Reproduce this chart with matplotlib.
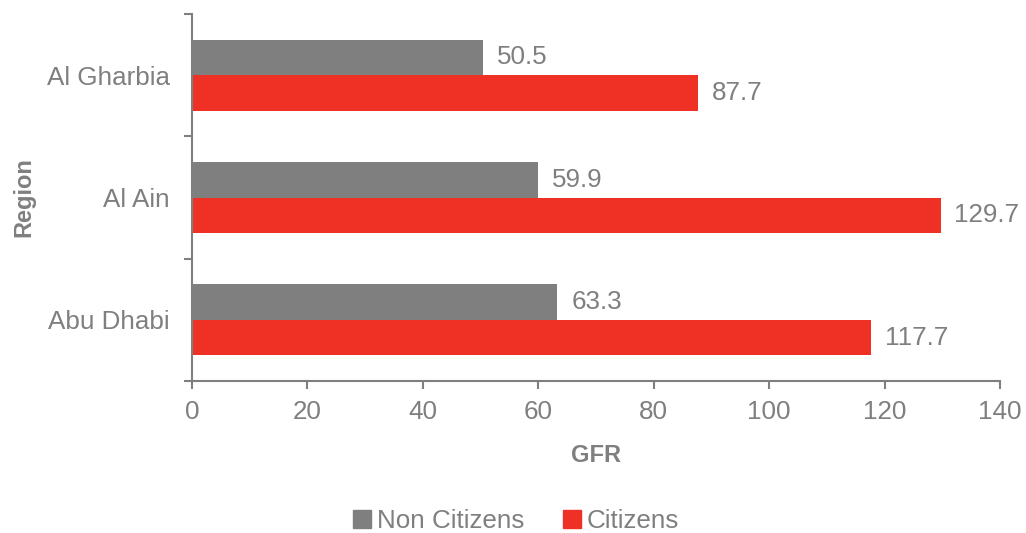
import numpy as np
import matplotlib.pyplot as plt
from matplotlib.patches import Patch

regions = ["Abu Dhabi", "Al Ain", "Al Gharbia"]
non_citizens = [63.3, 59.9, 50.5]
citizens = [117.7, 129.7, 87.7]

GREY = "#7f7f7f"
RED = "#ee3124"
TXT = "#7f7f7f"
FS = 18.7

plt.rcParams["font.family"] = ["Liberation Sans", "DejaVu Sans"]

fig = plt.figure(figsize=(10.26, 5.33), dpi=100)
ax = fig.add_axes([192 / 1026, 1 - 381 / 533, 808 / 1026, 367 / 533])

y = np.arange(len(regions))
h = 0.29
ax.barh(y + h / 2, non_citizens, height=h, color=GREY)
ax.barh(y - h / 2, citizens, height=h, color=RED)

# value labels to the right of each bar
for yi, v in zip(y, non_citizens):
    ax.annotate(f"{v:.1f}", (v, yi + h / 2), xytext=(10, 0), textcoords="offset points",
                va="center", ha="left", fontsize=FS, color=TXT)
for yi, v in zip(y, citizens):
    ax.annotate(f"{v:.1f}", (v, yi - h / 2), xytext=(10, 0), textcoords="offset points",
                va="center", ha="left", fontsize=FS, color=TXT)

ax.set_xlim(0, 140)
ax.set_ylim(-0.5, 2.5)
ax.set_xticks(np.arange(0, 141, 20))
ax.set_yticks(y)
ax.set_yticklabels(regions)
ax.set_yticks(np.arange(-0.5, 2.6, 1), minor=True)
ax.tick_params(axis="y", which="major", length=0, pad=16, labelsize=FS, labelcolor=TXT)
ax.tick_params(axis="y", which="minor", length=6, width=1.5, color=GREY)
ax.tick_params(axis="x", which="major", length=6, width=1.5, color=GREY,
               labelsize=FS, labelcolor=TXT, pad=8)

for s in ["top", "right"]:
    ax.spines[s].set_visible(False)
for s in ["left", "bottom"]:
    ax.spines[s].set_color(GREY)
    ax.spines[s].set_linewidth(1.5)

ax.set_xlabel("GFR", fontsize=17, fontweight="bold", color=TXT, labelpad=14)
ax.set_ylabel("Region", fontsize=17, fontweight="bold", color=TXT, labelpad=8)

handles = [Patch(color=GREY, label="Non Citizens"), Patch(color=RED, label="Citizens")]
fig.legend(handles=handles, loc="center", bbox_to_anchor=(516 / 1026, 1 - 521 / 533),
           ncol=2, frameon=False, fontsize=FS, labelcolor=TXT,
           handlelength=0.7, handleheight=0.7, handletextpad=0.2, columnspacing=1.5)

fig.savefig("out.png", dpi=100)
